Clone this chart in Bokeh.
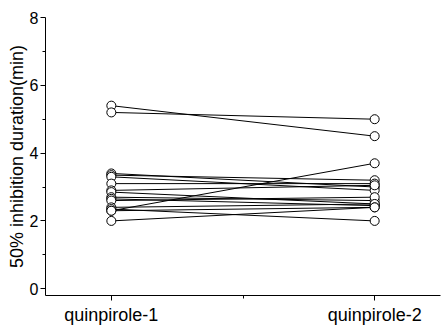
from bokeh.plotting import figure
from bokeh.models import FixedTicker
from bokeh.embed import file_html
from bokeh.resources import INLINE

categories = ["quinpirole-1", "quinpirole-2"]
q1 = [5.4, 5.2, 3.4, 3.35, 3.3, 3.1, 2.9, 2.85, 2.7, 2.65, 2.6, 2.4, 2.35, 2.3, 2.3, 2.0]
q2 = [4.5, 5.0, 3.0, 3.2, 2.9, 3.1, 3.05, 2.5, 2.6, 2.45, 2.7, 2.5, 2.0, 3.7, 2.4, 2.4]
y_ticks = [0, 2, 4, 6, 8]
y_minor = [1, 3, 5, 7]

xpos = [1, 2]

p = figure(width=448, height=330, output_backend="svg", toolbar_location=None,
           x_range=(0.75, 2.25), y_range=(-0.2, 8),
           min_border_left=45, min_border_right=8, min_border_top=17, min_border_bottom=35)
p.outline_line_color = None
p.xgrid.visible = False
p.ygrid.visible = False
p.background_fill_color = "white"
p.border_fill_color = "white"

xs = [xpos for _ in q1]
ys = [[a, b] for a, b in zip(q1, q2)]
p.multi_line(xs, ys, line_color="black", line_width=1)
p.scatter([xpos[0]] * len(q1), q1, marker="circle", size=9, fill_color="white", line_color="black", line_width=1)
p.scatter([xpos[1]] * len(q2), q2, marker="circle", size=9, fill_color="white", line_color="black", line_width=1)

font = "Liberation Sans"
p.xaxis.ticker = FixedTicker(ticks=xpos, minor_ticks=[1.5])
p.xaxis.major_label_overrides = {1: categories[0], 2: categories[1]}
p.yaxis.ticker = FixedTicker(ticks=y_ticks, minor_ticks=y_minor)
p.yaxis.axis_label = "50% inhibition duration(min)"

for ax in (p.xaxis[0], p.yaxis[0]):
    ax.axis_line_color = "black"
    ax.axis_line_width = 1
    ax.major_tick_line_color = "black"
    ax.minor_tick_line_color = "black"
    ax.major_tick_out = 5
    ax.major_tick_in = 0
    ax.minor_tick_out = 3
    ax.minor_tick_in = 0
    ax.major_label_text_font = font
    ax.major_label_text_color = "black"
    ax.axis_label_text_font = font
    ax.axis_label_text_font_style = "normal"
    ax.axis_label_text_color = "black"

p.xaxis.major_label_text_font_size = "18px"
p.xaxis.major_label_standoff = 4
p.yaxis.major_label_text_font_size = "16px"
p.yaxis.major_label_standoff = 2
p.yaxis.axis_label_text_font_size = "18px"
p.yaxis.axis_label_standoff = 0

open("out.html", "w").write(file_html(p, INLINE))
